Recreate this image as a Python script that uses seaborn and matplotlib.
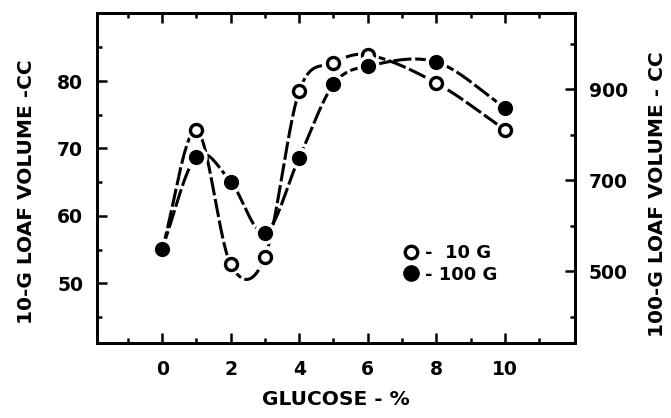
import numpy as np
import pandas as pd
import matplotlib
matplotlib.use("Agg")
import matplotlib.pyplot as plt
import seaborn as sns

# glucose levels (%)
glucose = [0, 1, 2, 3, 4, 5, 6, 8, 10]
# 10-g loaf volume (cc), left axis
vol_10g = [55, 72.7, 52.8, 53.9, 78.5, 82.7, 83.9, 79.7, 72.8]
# 100-g loaf volume (cc), right axis
vol_100g = [550, 752, 697, 585, 750, 911, 951, 960, 860]

x_ticks = [0, 2, 4, 6, 8, 10]
left_ticks = [50, 60, 70, 80]
right_ticks = [500, 700, 900]


def smooth(x, y, n=40):
    """Cardinal (Catmull-Rom style) curve through the points, like a french-curve drawing."""
    x = np.asarray(x, float)
    y = np.asarray(y, float)
    m = np.zeros_like(y)
    m[1:-1] = (y[2:] - y[:-2]) / (x[2:] - x[:-2])
    m[0] = (y[1] - y[0]) / (x[1] - x[0])
    m[-1] = (y[-1] - y[-2]) / (x[-1] - x[-2])
    xs_all, ys_all = [], []
    for i in range(len(x) - 1):
        h = x[i + 1] - x[i]
        t = np.linspace(0, 1, n)
        h00 = 2 * t ** 3 - 3 * t ** 2 + 1
        h10 = t ** 3 - 2 * t ** 2 + t
        h01 = -2 * t ** 3 + 3 * t ** 2
        h11 = t ** 3 - t ** 2
        xs_all.append(x[i] + t * h)
        ys_all.append(h00 * y[i] + h10 * h * m[i] + h01 * y[i + 1] + h11 * h * m[i + 1])
    return np.concatenate(xs_all), np.concatenate(ys_all)


sns.set_style("ticks")
plt.rcParams["font.family"] = ["DejaVu Sans"]
plt.rcParams["font.weight"] = "bold"
for k in ("text.color", "axes.labelcolor", "xtick.color", "ytick.color", "axes.edgecolor"):
    plt.rcParams[k] = "black"

fig, ax = plt.subplots(figsize=(6.71, 4.18), dpi=100)
fig.subplots_adjust(left=0.1446, right=0.857, top=0.969, bottom=0.179)
ax2 = ax.twinx()

lw = 2.2
dash = (6, 1.2)

# 10 g curve (left axis)
xs, ys = smooth(glucose, vol_10g)
sns.lineplot(x=xs, y=ys, ax=ax, color="black", lw=lw, zorder=2, sort=False)
ax.lines[-1].set_dashes(dash)
ax.plot(glucose, vol_10g, "o", ms=14, color="white", zorder=3)
sns.scatterplot(x=glucose, y=vol_10g, ax=ax, s=75, color="white",
                edgecolor="black", linewidth=2.4, zorder=4)

# 100 g curve (right axis)
xs2, ys2 = smooth(glucose, vol_100g)
sns.lineplot(x=xs2, y=ys2, ax=ax2, color="black", lw=lw, zorder=2, sort=False)
ax2.lines[-1].set_dashes(dash)
ax2.plot(glucose, vol_100g, "o", ms=15, color="white", zorder=3)
sns.scatterplot(x=glucose, y=vol_100g, ax=ax2, s=120, color="black",
                edgecolor="black", linewidth=0, zorder=4)

ax.set_xlim(-1.9, 12.05)
ax.set_ylim(41.1, 90.1)
ax2.set_ylim(342, 1068)

ax.set_xticks(x_ticks)
ax.set_xticks([-1, 1, 3, 5, 7, 9, 11], minor=True)
ax.set_yticks(left_ticks)
ax.set_yticks([45, 55, 65, 75, 85], minor=True)
ax2.set_yticks(right_ticks)
ax2.set_yticks([400, 600, 800, 1000], minor=True)

for a in (ax, ax2):
    for s in a.spines.values():
        s.set_linewidth(2)
        s.set_visible(True)
    a.tick_params(which="major", direction="in", length=7, width=1.8,
                  labelsize=13.5, pad=10)
    a.tick_params(which="minor", direction="in", length=3.5, width=1.8)
ax.tick_params(axis="x", which="both", top=True, labeltop=False)
ax.tick_params(axis="x", pad=12)

ax.set_xlabel("GLUCOSE - %", fontsize=14.5, fontweight="bold", labelpad=8)
ax.set_ylabel("10-G LOAF VOLUME -CC", fontsize=14.5, fontweight="bold")
ax2.set_ylabel("100-G LOAF VOLUME - CC", fontsize=14.5, fontweight="bold")
ax.yaxis.set_label_coords(-0.127, 0.46)
ax2.yaxis.set_label_coords(1.152, 0.45)

# legend
h1 = plt.Line2D([], [], ls="", marker="o", ms=9, mfc="white", mec="black", mew=2.4)
h2 = plt.Line2D([], [], ls="", marker="o", ms=11, mfc="black", mec="black")
ax2.legend([h1, h2], ["-  10 G", "- 100 G"], loc="center left",
           bbox_to_anchor=(0.6, 0.24), frameon=False, fontsize=13,
           handletextpad=0.2, labelspacing=0.2, handlelength=1.2)

fig.savefig("out.png", dpi=100)
